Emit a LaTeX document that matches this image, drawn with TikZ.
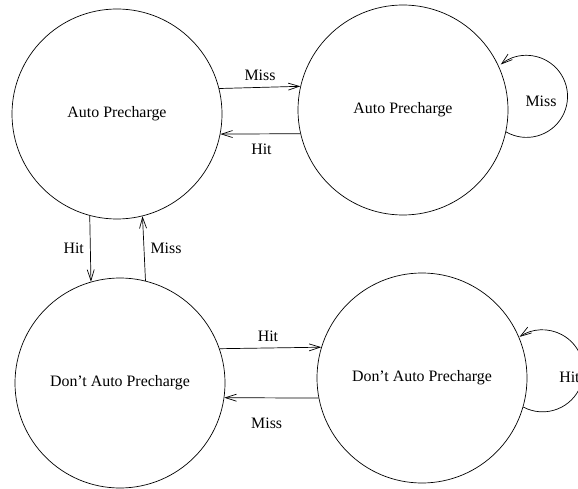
\documentclass[tikz,border=0pt]{standalone}
\usepackage{fontspec}
\setmainfont{Liberation Serif}
\usetikzlibrary{arrows.meta}
\begin{document}
\begin{tikzpicture}[x=1pt,y=1pt,
  font=\fontsize{15.9}{19}\selectfont,
  line width=0.7pt,
  state/.style={circle,draw,minimum size=210pt,inner sep=0pt},
  arr/.style={-{Straight Barb[length=11pt,width=7pt]}},
  lbl/.style={inner sep=0pt}]
\useasboundingbox (0,0) rectangle (578,-489);
\clip (0,0) rectangle (578,-489);

% states
\node[state] (tl) at (117,-114) {Auto Precharge};
\node[state] (tr) at (403,-110) {Auto Precharge};
\node[state] (bl) at (120,-383) {Don't Auto Precharge};
\node[state] (br) at (422,-378) {Don't Auto Precharge};

% top pair
\draw[arr] (tl.14.7) -- (tr.167.5);
\draw[arr] (tr.193.2) -- (tl.-11);
\node[lbl] (m1) at (260,-75) {Miss};
\node[lbl] (h1) at (261.5,-149) {Hit};

% left column
\draw[arr] (tl.255.3) -- (bl.106.4);
\draw[arr] (bl.76.9) -- (tl.284.8);
\node[lbl] (h2) at (73.7,-248.3) {Hit};
\node[lbl] (m2) at (166,-248.3) {Miss};

% bottom pair
\draw[arr] (bl.19.3) -- (br.163.6);
\draw[arr] (br.191.5) -- (bl.-8.8);
\node[lbl] (h3) at (268,-336.7) {Hit};
\node[lbl] (m3) at (266.7,-423.3) {Miss};

% self loops
\draw[arr] (tr.-12.9) arc[start angle=-120,end angle=129,radius=41];
\node[lbl] (m4) at (541,-101.7) {Miss};
\draw[arr] (br.-16.5) arc[start angle=-118,end angle=124,radius=41];
\node[lbl] (h4) at (569.5,-377) {Hit};
\end{tikzpicture}
\end{document}
